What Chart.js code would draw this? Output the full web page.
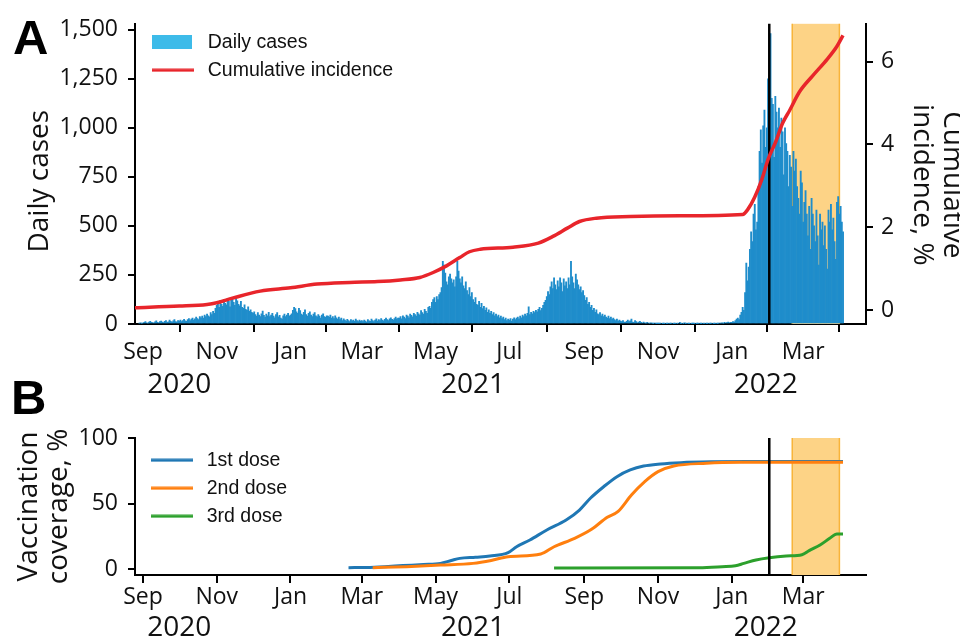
<!DOCTYPE html>
<html lang="en">
<head>
<meta charset="utf-8">
<title>Daily cases and vaccination coverage</title>
<script src="https://cdn.jsdelivr.net/npm/chart.js@4.4.1/dist/chart.umd.min.js"></script>
<style>
  html, body { margin: 0; padding: 0; background: #fff; }
  body { position: relative; width: 960px; height: 643px; overflow: hidden; }
  canvas { position: absolute; left: 0; }
  #casesChart { top: 0; }
  #coverageChart { top: 400px; }
  .panel { position: absolute; font: bold 49px/1 "Liberation Sans", Arial, sans-serif; color: #000; }
</style>
</head>
<body>
<canvas id="casesChart" width="960" height="400"></canvas>
<canvas id="coverageChart" width="960" height="243"></canvas>
<div class="panel" style="left:13px; top:13px">A</div>
<div class="panel" style="left:11px; top:373px">B</div>
<script>
// ============ DATA ============
const monthTickDates = ["2020-09-01", "2020-11-01", "2021-01-01", "2021-03-01", "2021-05-01",
  "2021-07-01", "2021-09-01", "2021-11-01", "2022-01-01", "2022-03-01"];
const monthLabels = ["Sep", "Nov", "Jan", "Mar", "May", "Jul", "Sep", "Nov", "Jan", "Mar"];
const yearTickDates = ["2020-10-01", "2021-06-01", "2022-01-29"];
const yearLabels = ["2020", "2021", "2022"];
const casesTicks = [0, 250, 500, 750, 1000, 1250, 1500];
const incidenceTicks = [0, 2, 4, 6];
const coverageTicks = [0, 50, 100];

// daily cases, one value per day starting at casesStart
const casesStart = "2020-08-29";
const cases2020Aug = [4, 6, 3];
const cases2020Sep = [5, 8, 12, 6, 4, 10, 14, 9, 7, 5, 11, 16, 8, 6, 12, 15, 10, 7, 13, 18, 9, 11, 20, 14, 8, 16, 22, 12, 10, 18];
const cases2020Oct = [15, 20, 12, 18, 24, 16, 14, 22, 28, 18, 25, 30, 20, 26, 35, 28, 22, 38, 32, 40, 30, 45, 38, 50, 42, 36, 58, 48, 65, 55, 80];
const cases2020Nov = [95, 110, 85, 120, 100, 90, 125, 105, 98, 130, 115, 88, 120, 135, 110, 95, 128, 118, 100, 92, 115, 85, 80, 98, 75, 70, 88, 65, 72, 60];
const cases2020Dec = [55, 62, 48, 40, 58, 45, 38, 52, 66, 44, 35, 50, 42, 60, 38, 46, 55, 40, 32, 48, 58, 36, 44, 30, 25, 42, 50, 38, 46, 55, 40];
const cases2021Jan = [45, 52, 70, 85, 78, 62, 55, 80, 68, 50, 45, 60, 72, 48, 40, 55, 62, 45, 38, 50, 58, 42, 36, 48, 40, 30, 45, 52, 38, 34, 42];
const cases2021Feb = [40, 35, 45, 30, 38, 28, 42, 32, 25, 35, 22, 30, 18, 26, 20, 15, 24, 18, 12, 22, 16, 20, 14, 25, 18, 12, 20, 15];
const cases2021Mar = [18, 12, 20, 15, 10, 22, 16, 14, 25, 18, 12, 20, 26, 15, 22, 18, 28, 20, 16, 24, 30, 22, 18, 26, 32, 24, 20, 28, 35, 26, 30];
const cases2021Apr = [30, 38, 26, 42, 35, 28, 45, 40, 32, 50, 44, 36, 55, 48, 40, 60, 52, 45, 68, 58, 50, 75, 65, 55, 85, 90, 80, 110, 125, 135];
const cases2021May = [110, 140, 125, 150, 160, 185, 320, 300, 260, 215, 200, 240, 255, 230, 210, 225, 190, 240, 320, 270, 230, 210, 240, 195, 180, 215, 170, 150, 185, 140, 160];
const cases2021Jun = [125, 110, 135, 100, 95, 115, 85, 105, 78, 90, 70, 82, 60, 72, 55, 65, 48, 58, 42, 50, 38, 45, 32, 40, 28, 35, 22, 30, 18, 25];
const cases2021Jul = [20, 28, 15, 25, 32, 22, 30, 35, 26, 40, 32, 45, 38, 50, 42, 55, 88, 48, 60, 52, 65, 58, 70, 62, 75, 85, 68, 80, 95, 110, 120];
const cases2021Aug = [140, 165, 150, 190, 215, 180, 235, 200, 175, 220, 190, 235, 210, 165, 230, 195, 215, 180, 235, 200, 320, 240, 210, 180, 255, 225, 200, 175, 190, 160, 170];
const cases2021Sep = [145, 120, 135, 100, 110, 85, 95, 70, 80, 60, 72, 52, 48, 58, 42, 50, 38, 45, 35, 30, 40, 28, 35, 25, 30, 22, 18, 25, 15, 20];
const cases2021Oct = [15, 12, 18, 10, 8, 14, 20, 12, 16, 25, 10, 8, 18, 12, 6, 10, 14, 8, 5, 10, 6, 4, 8, 5, 3, 6, 4, 2, 5, 3, 2];
const cases2021Nov = [2, 1, 3, 0, 2, 1, 0, 2, 1, 0, 1, 3, 0, 1, 2, 0, 1, 0, 8, 2, 0, 1, 6, 1, 0, 2, 1, 0, 1, 2];
const cases2021Dec = [1, 0, 2, 1, 0, 1, 2, 0, 1, 0, 2, 1, 0, 1, 3, 0, 2, 1, 0, 2, 3, 5, 4, 6, 3, 8, 5, 7, 10, 6, 9];
const cases2022Jan = [8, 12, 10, 18, 25, 30, 22, 45, 60, 85, 70, 160, 310, 220, 290, 380, 470, 420, 560, 610, 480,
  520, 700, 880, 990, 820, 1010, 1090, 900, 1000, 1250];
const cases2022Feb = [1000, 1480, 1150, 1120, 850, 1160, 1080, 1000, 1100, 900, 1050, 980, 760, 1000,
  920, 880, 700, 860, 800, 600, 880, 780, 840, 700, 640, 560, 780, 720];
const cases2022Mar = [520, 620, 680, 560, 450, 600, 380, 640, 560, 500, 420, 580, 450, 300,
  560, 480, 520, 400, 500, 380, 280, 580, 520, 610, 480, 540, 420, 330, 620, 650, 560];
const cases2022Apr = [600, 520, 470];

// cumulative incidence, %
const incidenceDates = ["2020-08-25", "2020-10-01", "2020-10-24", "2020-11-01", "2020-11-14", "2020-12-07",
  "2021-01-01", "2021-01-23", "2021-02-19", "2021-03-14", "2021-04-02", "2021-04-18", "2021-04-29",
  "2021-05-10", "2021-05-21", "2021-05-29", "2021-06-07", "2021-07-04", "2021-07-25", "2021-08-06",
  "2021-08-18", "2021-08-28", "2021-09-11", "2021-10-09", "2021-11-19", "2022-01-10", "2022-01-14",
  "2022-01-20", "2022-01-26", "2022-01-31", "2022-02-06", "2022-02-12", "2022-02-18", "2022-02-26",
  "2022-03-09", "2022-03-21", "2022-03-29", "2022-04-03"];
const incidenceValues = [0.06, 0.10, 0.14, 0.18, 0.29, 0.46, 0.54, 0.63, 0.67, 0.69, 0.73, 0.79, 0.91,
  1.07, 1.27, 1.41, 1.47, 1.52, 1.62, 1.78, 1.98, 2.14, 2.22, 2.26, 2.28, 2.31, 2.42,
  2.73, 3.17, 3.64, 4.04, 4.51, 4.83, 5.27, 5.66, 6.06, 6.37, 6.63];

// vaccination coverage, %
const dose1Dates = ["2021-02-18", "2021-03-05", "2021-03-20", "2021-04-04", "2021-04-21", "2021-05-05",
  "2021-05-14", "2021-05-21", "2021-06-03", "2021-06-15", "2021-06-30", "2021-07-07", "2021-07-18",
  "2021-08-01", "2021-08-17", "2021-08-28", "2021-09-06", "2021-09-17", "2021-09-28", "2021-10-09",
  "2021-10-20", "2021-11-03", "2021-11-20", "2021-12-15", "2022-01-14", "2022-04-03"];
const dose1Values = [1.0, 1.2, 1.8, 2.6, 3.4, 4.3, 6.5, 8.1, 9.0, 9.9, 12.5, 17.0, 22.1,
  29.8, 37.4, 45.0, 54.0, 62.8, 70.5, 75.6, 78.6, 80.2, 81.2, 81.8, 82.0, 82.0];
const dose2Dates = ["2021-03-10", "2021-04-07", "2021-05-05", "2021-06-01", "2021-06-16", "2021-06-30",
  "2021-07-27", "2021-08-07", "2021-08-24", "2021-09-07", "2021-09-20", "2021-09-29", "2021-10-10",
  "2021-10-21", "2021-11-01", "2021-11-14", "2021-12-11", "2022-01-08", "2022-04-03"];
const dose2Values = [1.0, 1.8, 3.0, 4.3, 6.5, 9.4, 11.5, 17.0, 23.4, 30.3, 39.5, 44.0, 56.5,
  66.7, 74.3, 78.6, 80.7, 81.4, 81.5];
const dose3Dates = ["2021-08-07", "2021-12-05", "2021-12-24", "2022-01-04", "2022-01-11", "2022-01-21",
  "2022-02-01", "2022-02-15", "2022-02-28", "2022-03-06", "2022-03-15", "2022-03-23", "2022-03-29", "2022-04-03"];
const dose3Values = [0.8, 1.0, 1.8, 2.5, 4.3, 6.9, 8.6, 9.9, 10.9, 14.0, 18.3, 23.4, 26.7, 26.7];

// vertical marker and shaded period
const markerDate = "2022-02-01";
const bandDates = ["2022-02-20", "2022-03-31"];

// ============ HELPERS ============
const DAY0 = Date.UTC(2020, 8, 1);
function dayNum(s) {
  const [y, m, d] = s.split("-").map(Number);
  return (Date.UTC(y, m - 1, d) - DAY0) / 86400000;
}
function toPoints(dates, values) {
  return dates.map((d, i) => ({ x: dayNum(d), y: values[i] }));
}

const dailyCases = [].concat(cases2020Aug, cases2020Sep, cases2020Oct, cases2020Nov, cases2020Dec,
  cases2021Jan, cases2021Feb, cases2021Mar, cases2021Apr, cases2021May, cases2021Jun, cases2021Jul,
  cases2021Aug, cases2021Sep, cases2021Oct, cases2021Nov, cases2021Dec, cases2022Jan, cases2022Feb,
  cases2022Mar, cases2022Apr);
const casesPoints = dailyCases.map((v, i) => ({ x: dayNum(casesStart) + i, y: v }));

const X_MIN = -6.6, X_MAX = 598;

Chart.defaults.font.family = '"Open Sans", sans-serif';
Chart.defaults.color = "#111";
Chart.defaults.animation = false;

function monthAxis(height, pad) {
  return {
    type: "linear", position: "bottom", weight: 0, min: X_MIN, max: X_MAX, offset: false,
    afterBuildTicks: (s) => { s.ticks = monthTickDates.map((d) => ({ value: dayNum(d) })); },
    afterFit: (s) => { s.height = height; },
    ticks: { autoSkip: false, maxRotation: 0, padding: pad, font: { size: 23 }, callback: (v, i) => monthLabels[i] },
    grid: { drawOnChartArea: false, tickLength: 8, color: "#000", lineWidth: 2 },
    border: { color: "#000", width: 2 }
  };
}

function yearAxis(height, pad) {
  return {
    type: "linear", position: "bottom", weight: 1, min: X_MIN, max: X_MAX, offset: false,
    afterBuildTicks: (s) => { s.ticks = yearTickDates.map((d) => ({ value: dayNum(d) })); },
    afterFit: (s) => { s.height = height; },
    ticks: { autoSkip: false, maxRotation: 0, padding: pad, font: { size: 28 }, callback: (v, i) => yearLabels[i] },
    grid: { display: false, drawTicks: false, tickLength: 0 },
    border: { display: false }
  };
}

function valueAxis(position, min, max, tickValues, width, title, titlePad, fmt) {
  return {
    type: "linear", position, min, max,
    afterBuildTicks: (s) => { s.ticks = tickValues.map((v) => ({ value: v })); },
    afterFit: (s) => { s.width = width; },
    ticks: { padding: position === "left" ? 10 : 8, font: { size: 23 }, callback: fmt || ((v) => String(v)) },
    grid: { drawOnChartArea: false, tickLength: 7, color: "#000", lineWidth: 2 },
    border: { color: "#000", width: 2 },
    title: { display: true, text: title, padding: { top: titlePad, bottom: 0 }, font: { size: 28, lineHeight: 1.07 }, color: "#111" }
  };
}

// legend swatches
function swatch(color, kind) {
  const c = document.createElement("canvas");
  c.width = 46;
  c.height = kind === "box" ? 14 : 4;
  const g = c.getContext("2d");
  g.fillStyle = color;
  if (kind === "box") g.fillRect(0, 0, 40, 14);
  else g.fillRect(0, 0.5, 42, 3);
  return c;
}

const legendFont = { family: '"Liberation Sans", Arial, sans-serif', size: 19.5 };

// moves the legend to a fixed spot inside the plot
const legendSpot = {
  id: "legendSpot",
  afterLayout(chart, args, opts) {
    const lg = chart.legend;
    if (!lg) return;
    const pad = lg.options.labels.padding;
    lg.left = opts.x - pad;
    lg.top = opts.y - pad;
    lg.right = lg.left + lg.width;
    lg.bottom = lg.top + 300;
  }
};

// shaded period + vertical marker line
function drawMarkerLine(chart) {
  const { ctx, chartArea: a, scales: { x } } = chart;
  const px = x.getPixelForValue(dayNum(markerDate));
  ctx.save();
  ctx.strokeStyle = "#000";
  ctx.lineWidth = 2.5;
  ctx.beginPath();
  ctx.moveTo(px, a.top);
  ctx.lineTo(px, a.bottom);
  ctx.stroke();
  ctx.restore();
}
const markers = {
  id: "markers",
  beforeDatasetsDraw(chart) {
    const { ctx, chartArea: a, scales: { x } } = chart;
    const x0 = x.getPixelForValue(dayNum(bandDates[0]));
    const x1 = x.getPixelForValue(dayNum(bandDates[1]));
    ctx.save();
    ctx.fillStyle = "#fdd386";
    ctx.fillRect(x0, a.top, x1 - x0, a.bottom - a.top);
    ctx.strokeStyle = "#f8b43a";
    ctx.lineWidth = 1.5;
    ctx.beginPath();
    ctx.moveTo(x0, a.top); ctx.lineTo(x0, a.bottom);
    ctx.moveTo(x1, a.top); ctx.lineTo(x1, a.bottom);
    ctx.stroke();
    ctx.restore();
  },
  afterDatasetDraw(chart, args, opts) {
    if (opts.after === "bars" && args.meta.type === "bar") drawMarkerLine(chart);
  },
  afterDatasetsDraw(chart, args, opts) {
    if (opts.after !== "bars") drawMarkerLine(chart);
  }
};

// ============ PANEL A ============
new Chart(document.getElementById("casesChart"), {
  type: "bar",
  data: {
    datasets: [
      {
        type: "bar", label: "Daily cases", data: casesPoints,
        backgroundColor: "#1f8dcb", borderWidth: 0,
        barPercentage: 1, categoryPercentage: 1,
        xAxisID: "x", yAxisID: "y", order: 2
      },
      {
        type: "line", label: "Cumulative incidence", data: toPoints(incidenceDates, incidenceValues),
        borderColor: "#e8252b", borderWidth: 3.5, pointRadius: 0, cubicInterpolationMode: "monotone",
        xAxisID: "x", yAxisID: "y2", order: 1
      }
    ]
  },
  options: {
    responsive: false,
    layout: { padding: { top: 19, left: 0, right: 0, bottom: 0 } },
    scales: {
      x: monthAxis(44, 6.7),
      xYear: yearAxis(32, 0),
      y: valueAxis("left", 0, 1530, casesTicks, 135, "Daily cases  ", 25.5, (v) => v.toLocaleString("en-US")),
      y2: valueAxis("right", -0.333, 6.91, incidenceTicks, 94, ["   Cumulative", "   incidence, %"], -7)
    },
    plugins: {
      tooltip: { enabled: false },
      markers: { after: "bars" },
      legendSpot: { x: 152, y: 32.5 },
      legend: {
        position: "chartArea", align: "start",
        labels: {
          usePointStyle: true, pointStyleWidth: 46, boxHeight: 14, padding: 8.5, font: legendFont,
          generateLabels: () => [
            { text: "Daily cases", pointStyle: swatch("#3dbbe9", "box"), fontColor: "#111", datasetIndex: 0, lineWidth: 0 },
            { text: "Cumulative incidence", pointStyle: swatch("#e8252b", "line"), fontColor: "#111", datasetIndex: 1, lineWidth: 0 }
          ]
        }
      }
    }
  },
  plugins: [markers, legendSpot]
});

// ============ PANEL B ============
const lineStyle = { borderWidth: 3, pointRadius: 0, cubicInterpolationMode: "monotone" };
new Chart(document.getElementById("coverageChart"), {
  type: "line",
  data: {
    datasets: [
      { label: "1st dose", data: toPoints(dose1Dates, dose1Values), borderColor: "#1f77b4", order: 3, ...lineStyle },
      { label: "2nd dose", data: toPoints(dose2Dates, dose2Values), borderColor: "#ff7f0e", order: 2, ...lineStyle },
      { label: "3rd dose", data: toPoints(dose3Dates, dose3Values), borderColor: "#2ca02c", order: 1, ...lineStyle }
    ]
  },
  options: {
    responsive: false,
    layout: { padding: { top: 38, left: 0, right: 94, bottom: 0 } },
    scales: {
      x: monthAxis(36, 0.7),
      xYear: yearAxis(32, 0.2),
      y: valueAxis("left", -4.58, 100, coverageTicks, 135, ["Vaccination", "coverage, %"], 13.6)
    },
    plugins: {
      tooltip: { enabled: false },
      markers: { after: "all" },
      legendSpot: { x: 151, y: 50.5 },
      legend: {
        position: "chartArea", align: "start",
        labels: {
          usePointStyle: true, pointStyleWidth: 46, boxHeight: 14, padding: 8.5, font: legendFont,
          generateLabels: () => [
            { text: "1st dose", pointStyle: swatch("#1f77b4", "line"), fontColor: "#111", datasetIndex: 0, lineWidth: 0 },
            { text: "2nd dose", pointStyle: swatch("#ff7f0e", "line"), fontColor: "#111", datasetIndex: 1, lineWidth: 0 },
            { text: "3rd dose", pointStyle: swatch("#2ca02c", "line"), fontColor: "#111", datasetIndex: 2, lineWidth: 0 }
          ]
        }
      }
    }
  },
  plugins: [markers, legendSpot]
});
</script>
</body>
</html>
